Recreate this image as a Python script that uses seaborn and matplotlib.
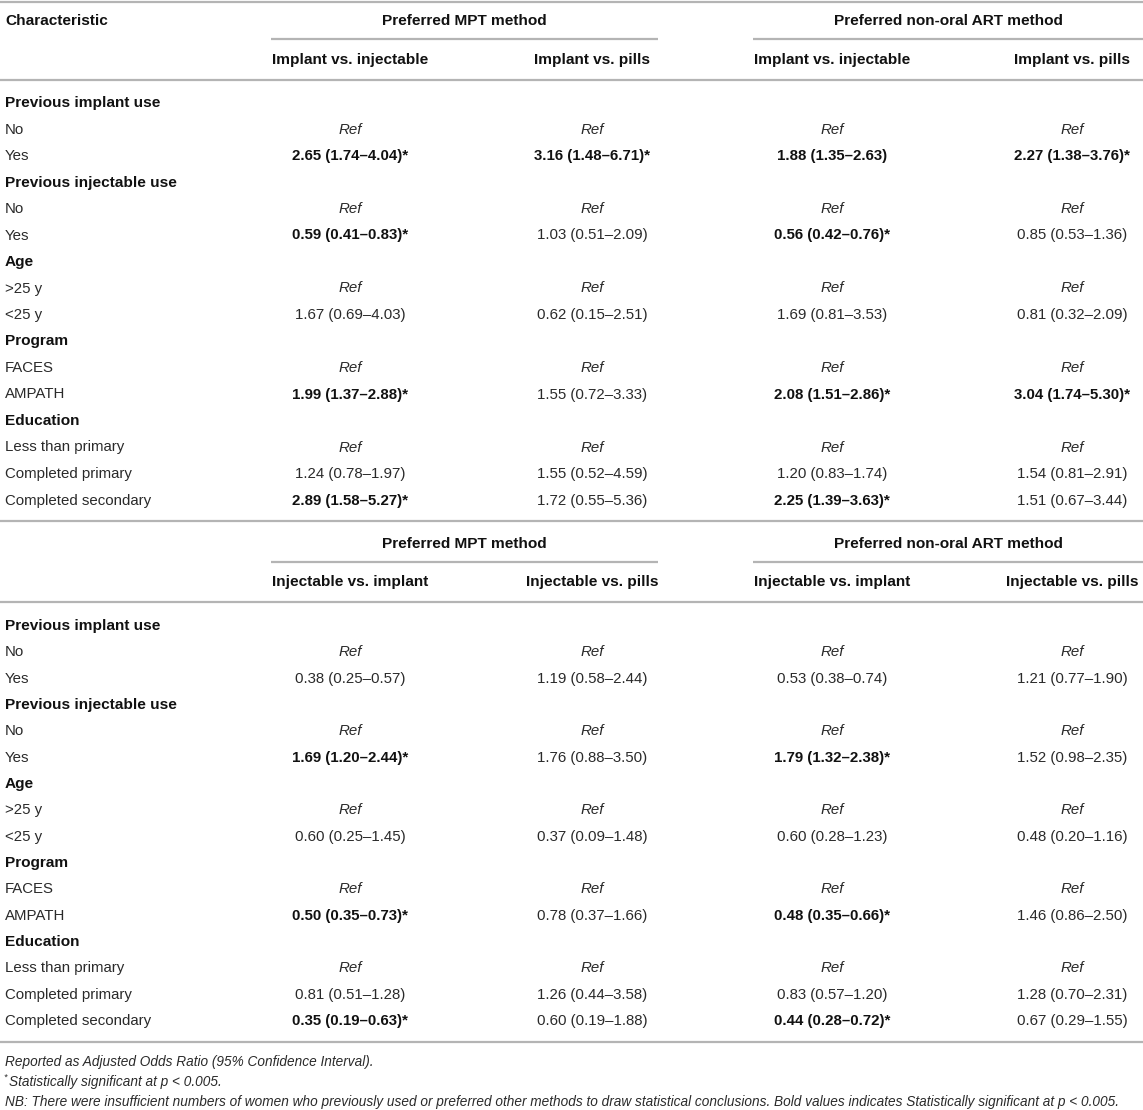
import matplotlib
matplotlib.use("Agg")
import matplotlib.pyplot as plt
import seaborn as sns
import numpy as np

# table contents
row_labels = ["Previous implant use", "No", "Yes", "Previous injectable use", "No", "Yes",
              "Age", ">25 y", "<25 y", "Program", "FACES", "AMPATH",
              "Education", "Less than primary", "Completed primary", "Completed secondary"]
is_group = [1, 0, 0, 1, 0, 0, 1, 0, 0, 1, 0, 0, 1, 0, 0, 0]

group_headers = ["Preferred MPT method", "Preferred non-oral ART method"]
top_subheaders = ["Implant vs. injectable", "Implant vs. pills", "Implant vs. injectable", "Implant vs. pills"]
bottom_subheaders = ["Injectable vs. implant", "Injectable vs. pills", "Injectable vs. implant", "Injectable vs. pills"]

top_c1 = ["", "Ref", "2.65 (1.74–4.04)*", "", "Ref", "0.59 (0.41–0.83)*", "", "Ref", "1.67 (0.69–4.03)",
          "", "Ref", "1.99 (1.37–2.88)*", "", "Ref", "1.24 (0.78–1.97)", "2.89 (1.58–5.27)*"]
top_c2 = ["", "Ref", "3.16 (1.48–6.71)*", "", "Ref", "1.03 (0.51–2.09)", "", "Ref", "0.62 (0.15–2.51)",
          "", "Ref", "1.55 (0.72–3.33)", "", "Ref", "1.55 (0.52–4.59)", "1.72 (0.55–5.36)"]
top_c3 = ["", "Ref", "1.88 (1.35–2.63)", "", "Ref", "0.56 (0.42–0.76)*", "", "Ref", "1.69 (0.81–3.53)",
          "", "Ref", "2.08 (1.51–2.86)*", "", "Ref", "1.20 (0.83–1.74)", "2.25 (1.39–3.63)*"]
top_c4 = ["", "Ref", "2.27 (1.38–3.76)*", "", "Ref", "0.85 (0.53–1.36)", "", "Ref", "0.81 (0.32–2.09)",
          "", "Ref", "3.04 (1.74–5.30)*", "", "Ref", "1.54 (0.81–2.91)", "1.51 (0.67–3.44)"]

bot_c1 = ["", "Ref", "0.38 (0.25–0.57)", "", "Ref", "1.69 (1.20–2.44)*", "", "Ref", "0.60 (0.25–1.45)",
          "", "Ref", "0.50 (0.35–0.73)*", "", "Ref", "0.81 (0.51–1.28)", "0.35 (0.19–0.63)*"]
bot_c2 = ["", "Ref", "1.19 (0.58–2.44)", "", "Ref", "1.76 (0.88–3.50)", "", "Ref", "0.37 (0.09–1.48)",
          "", "Ref", "0.78 (0.37–1.66)", "", "Ref", "1.26 (0.44–3.58)", "0.60 (0.19–1.88)"]
bot_c3 = ["", "Ref", "0.53 (0.38–0.74)", "", "Ref", "1.79 (1.32–2.38)*", "", "Ref", "0.60 (0.28–1.23)",
          "", "Ref", "0.48 (0.35–0.66)*", "", "Ref", "0.83 (0.57–1.20)", "0.44 (0.28–0.72)*"]
bot_c4 = ["", "Ref", "1.21 (0.77–1.90)", "", "Ref", "1.52 (0.98–2.35)", "", "Ref", "0.48 (0.20–1.16)",
          "", "Ref", "1.46 (0.86–2.50)", "", "Ref", "1.28 (0.70–2.31)", "0.67 (0.29–1.55)"]

# bold in the source even without the asterisk
extra_bold = {"1.88 (1.35–2.63)"}

footnotes = ["Reported as Adjusted Odds Ratio (95% Confidence Interval).",
             "Statistically significant at p < 0.005.",
             "NB: There were insufficient numbers of women who previously used or preferred other methods "
             "to draw statistical conclusions. Bold values indicates Statistically significant at p < 0.005."]

sns.set_theme(style="white")
plt.rcParams['font.family'] = ['Liberation Sans', 'DejaVu Sans']

W, H = 1143, 1110
fig = plt.figure(figsize=(W / 100, H / 100), dpi=100)
ax = fig.add_axes([0, 0, 1, 1])
ax.set_xlim(0, W)
ax.set_ylim(H, 0)
ax.axis("off")

FS = 10.8
FSB = 11.1
TXT = "#2a2a2a"
BLK = "#111111"
LINE = "#b4b4b4"
col_x = [350, 592, 832, 1072]
grp_span = [(271, 658), (753, W)]


def hline(y, x0=0, x1=W):
    ax.plot([x0, x1], [y, y], color=LINE, lw=1.6, solid_capstyle="butt")


def draw_header(y_grp, y_line, y_sub, subs, characteristic):
    if characteristic:
        ax.text(5, y_grp, "Characteristic", fontsize=FSB, fontweight="bold", color=BLK, va="center")
    for g, (a, b) in zip(group_headers, grp_span):
        ax.text((a + b) / 2, y_grp, g, fontsize=FSB, fontweight="bold", color=BLK, ha="center", va="center")
        hline(y_line, a, b)
    for cx, s in zip(col_x, subs):
        ax.text(cx, y_sub, s, fontsize=FSB, fontweight="bold", color=BLK, ha="center", va="center")


def draw_body(y0, step, cols):
    for i, lab in enumerate(row_labels):
        y = y0 + i * step
        if is_group[i]:
            ax.text(5, y, lab, fontsize=FSB, fontweight="bold", color=BLK, va="center")
        else:
            ax.text(5, y, lab, fontsize=FS, color=TXT, va="center")
        for cx, col in zip(col_x, cols):
            v = col[i]
            if not v:
                continue
            if v == "Ref":
                ax.text(cx, y, v, fontsize=FS, style="italic", color=TXT, ha="center", va="center")
            elif v.endswith("*") or v in extra_bold:
                ax.text(cx, y, v, fontsize=FS, fontweight="bold", color=BLK, ha="center", va="center")
            else:
                ax.text(cx, y, v, fontsize=FS, color=TXT, ha="center", va="center")


# top panel
hline(2)
draw_header(21, 39, 60, top_subheaders, True)
hline(80)
draw_body(103, 26.5, [top_c1, top_c2, top_c3, top_c4])
hline(521)

# bottom panel
draw_header(544, 562, 582, bottom_subheaders, False)
hline(602)
draw_body(626, 26.33, [bot_c1, bot_c2, bot_c3, bot_c4])
hline(1042)

# footnotes
FN = 9.8
ax.text(5, 1062, footnotes[0], fontsize=FN, style="italic", color=TXT, va="center")
ax.text(3, 1077, "*", fontsize=6.5, style="italic", color=TXT, va="center")
ax.text(9, 1082, footnotes[1], fontsize=FN, style="italic", color=TXT, va="center")
ax.text(5, 1102, footnotes[2], fontsize=FN, style="italic", color=TXT, va="center")

fig.savefig("out.png", dpi=100)
